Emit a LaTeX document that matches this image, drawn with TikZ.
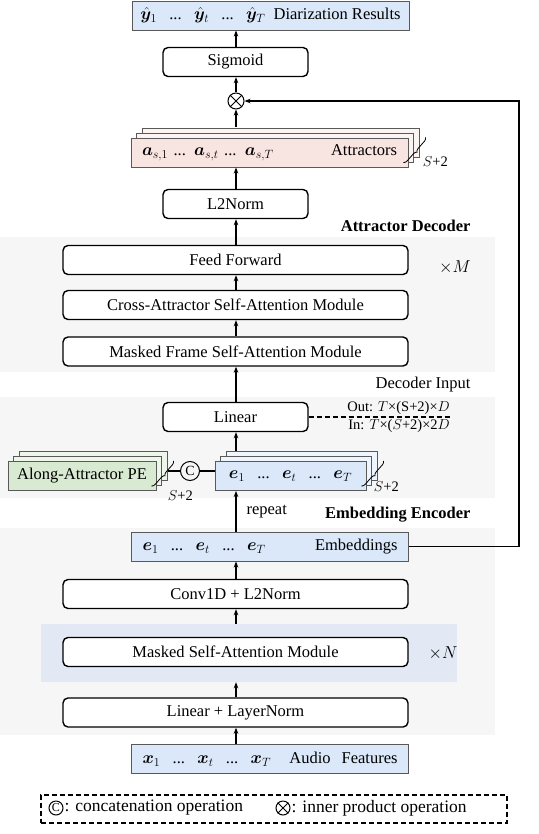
\documentclass[tikz,border=0pt]{standalone}
\usepackage{fontspec}
\setmainfont{Liberation Serif}
\usepackage{amsmath,bm}
\usetikzlibrary{arrows.meta,shadows,calc,decorations.pathreplacing}

\definecolor{resblue}{RGB}{218,232,250}
\definecolor{attpink}{RGB}{248,228,225}
\definecolor{pegreen}{RGB}{217,234,211}
\definecolor{areagray}{RGB}{246,246,246}
\definecolor{areablue}{RGB}{226,232,244}

\tikzset{
  block/.style={draw, line width=1.4pt, rounded corners=5pt, fill=white, minimum height=29pt},
  smallblock/.style={block, minimum width=145pt},
  wideblock/.style={block, minimum width=345pt},
  featbox/.style={draw=black!65, line width=0.9pt, minimum height=29pt},
  feat/.style={featbox, inner xsep=11pt, text width=255pt},
  stack/.style={double copy shadow={shadow xshift=5.5pt, shadow yshift=5pt, draw=black!65, line width=0.9pt, fill=#1}},
  arr/.style={-{Stealth[length=6pt,width=4.5pt]}, line width=1.4pt},
  sbrace/.style={decorate, decoration={brace, amplitude=3.5pt}, line width=0.8pt},
  opcirc/.style={draw, circle, line width=1pt, inner sep=0pt, minimum size=16pt},
  lbl/.style={font=\fontsize{14.5}{17}\selectfont},
  title/.style={font=\fontsize{16.5}{19}\selectfont\bfseries}
}
\newcommand{\gap}{\hspace{0.75em}}

\begin{document}
\begin{tikzpicture}[x=1pt,y=-1pt,font=\fontsize{16.5}{19}\selectfont]
  \useasboundingbox (0,0) rectangle (538,834);
  % Hintergrundflaechen
  \fill[areagray] (0,237) rectangle (495,372);
  \fill[areagray] (0,397) rectangle (495,498);
  \fill[areagray] (0,528) rectangle (495,735);
  \node[fill=areablue, minimum width=416pt, minimum height=58pt, inner sep=0pt] (msaarea) at (249,653) {};
  \coordinate (spine) at (236,0);

  % Embedding Encoder
  \node[feat, fill=resblue] (audio) at (270,759) {$\bm x_1$\gap...\gap$\bm x_t$\gap...\gap$\bm x_T$\hfill Audio\ \ Features\hspace*{9pt}};
  \node[wideblock] (lln) at (235.5,712.5) {Linear + LayerNorm};
  \node[wideblock] (msa) at (235.5,652) {Masked Self-Attention Module};
  \node (xn) at (443,653) {$\times N$};
  \node[wideblock] (conv) at (235.5,594) {Conv1D + L2Norm};
  \node[feat, fill=resblue] (emb) at (270,546.5) {$\bm e_1$\gap...\gap$\bm e_t$\gap...\gap$\bm e_T$\hfill Embeddings\hspace*{5pt}};
  \node[title, anchor=east] (enctitle) at (474,515) {Embedding Encoder};
  \node[anchor=west] (rep) at (243,512) {repeat};

  % Decoder Input
  \node[featbox, fill=resblue, minimum width=151pt, stack=resblue!45] (estack) at (290.5,476) {$\bm e_1$\gap...\gap$\bm e_t$\gap...\gap$\bm e_T$};
  \node[featbox, fill=pegreen, minimum width=148pt, stack=pegreen!45] (pe) at (82,476) {Along-Attractor PE};
  \draw[sbrace] ($(estack.south east)+(17,-30)$) -- ($(estack.south east)+(-5,-5)$);
  \draw[sbrace] ($(pe.south east)+(17,-30)$) -- ($(pe.south east)+(-5,-5)$);
  \node[lbl] (enum) at ($(estack.south east)+(20,-4)$) {$S$+2};
  \node[lbl] (penum) at ($(pe.south east)+(24,5)$) {$S$+2};
  \node[opcirc, minimum size=19pt, font=\fontsize{14}{16}\selectfont] (cat) at (190,471) {C};
  \coordinate (peright) at ($(pe.east)+(12,0)$);
  \draw[line width=1.2pt] (peright |- cat) -- (cat) -- (cat -| estack.west);
  \node[smallblock] (lin) at (235.5,417) {Linear};
  \coordinate (dimend) at (452,417);
  \draw[dash pattern=on 5pt off 3pt, line width=1.2pt] (lin.east) -- (dimend);
  \node[lbl, anchor=south east, inner sep=2pt] (outlbl) at (dimend) {Out: $T$×(S+2)×$D$};
  \node[lbl, anchor=north east, inner sep=2pt] (inlbl) at (dimend) {In: $T$×($S$+2)×2$D$};
  \node[anchor=east] (decin) at (474,385) {Decoder Input};

  % Attractor Decoder
  \node[wideblock] (mf) at (235.5,351.5) {Masked Frame Self-Attention Module};
  \node[wideblock] (ca) at (235.5,305) {Cross-Attractor Self-Attention Module};
  \node[wideblock] (ff) at (235.5,260) {Feed Forward};
  \node (xm) at (455,267) {$\times M$};
  \node[title, anchor=east] (dectitle) at (474,226) {Attractor Decoder};
  \node[smallblock] (l2) at (235.5,204) {L2Norm};
  \node[feat, fill=attpink, stack=attpink!40] (att) at (269.5,152.5) {$\bm a_{s,1}$ ... $\bm a_{s,t}$ ... $\bm a_{s,T}$\hfill Attractors\hspace*{6pt}};
  \draw[sbrace] ($(att.south east)+(17,-30)$) -- ($(att.south east)+(-5,-5)$);
  \node[lbl] (attnum) at ($(att.south east)+(27,-6)$) {$S$+2};
  \node[opcirc] (ot) at (236,101) {};
  \draw[line width=1pt] (ot.north west) -- (ot.south east) (ot.north east) -- (ot.south west);
  \node[smallblock] (sig) at (235.5,62) {Sigmoid};
  \node[featbox, fill=resblue, minimum width=277pt] (res) at (270.5,15.5) {$\hat{\bm y}_1$\gap...\gap$\hat{\bm y}_t$\gap...\gap$\hat{\bm y}_T$\ \ Diarization Results};

  % Pfeile
  \foreach \a/\b in {audio.north/lln.south, lln.north/msaarea.south, msaarea.north/conv.south,
    conv.north/emb.south, emb.north/estack.south, lin.north/mf.south, mf.north/ca.south,
    ca.north/ff.south, ff.north/l2.south, l2.north/att.south, ot.north/sig.south, sig.north/res.south}
    \draw[arr] (spine |- \a) -- (spine |- \b);
  \draw[arr] ($(spine |- estack.north)+(0,-10)$) -- (spine |- lin.south);
  \draw[arr] ($(spine |- att.north)+(0,-11)$) -- (ot.south);
  \coordinate (fbcorner) at (519,101);
  \draw[arr] (emb.east) -| (fbcorner) -- (ot.east);

  % Legende
  \node[draw, dash pattern=on 5pt off 3pt, line width=1.2pt, minimum width=466pt, minimum height=28pt] (legend) at (274,809) {};
  \node[opcirc, minimum size=14pt, font=\fontsize{12}{14}\selectfont] (lgcat) at (56,808) {C};
  \node[anchor=west, inner sep=1pt, font=\fontsize{17.5}{20}\selectfont] (lgcattxt) at (lgcat.east) {: concatenation operation};
  \node[opcirc, minimum size=14pt] (lgot) at (283,808) {};
  \draw[line width=1pt] (lgot.north west) -- (lgot.south east) (lgot.north east) -- (lgot.south west);
  \node[anchor=west, inner sep=1pt, font=\fontsize{17.5}{20}\selectfont] (lgottxt) at (lgot.east) {: inner product operation};
\end{tikzpicture}
\end{document}
